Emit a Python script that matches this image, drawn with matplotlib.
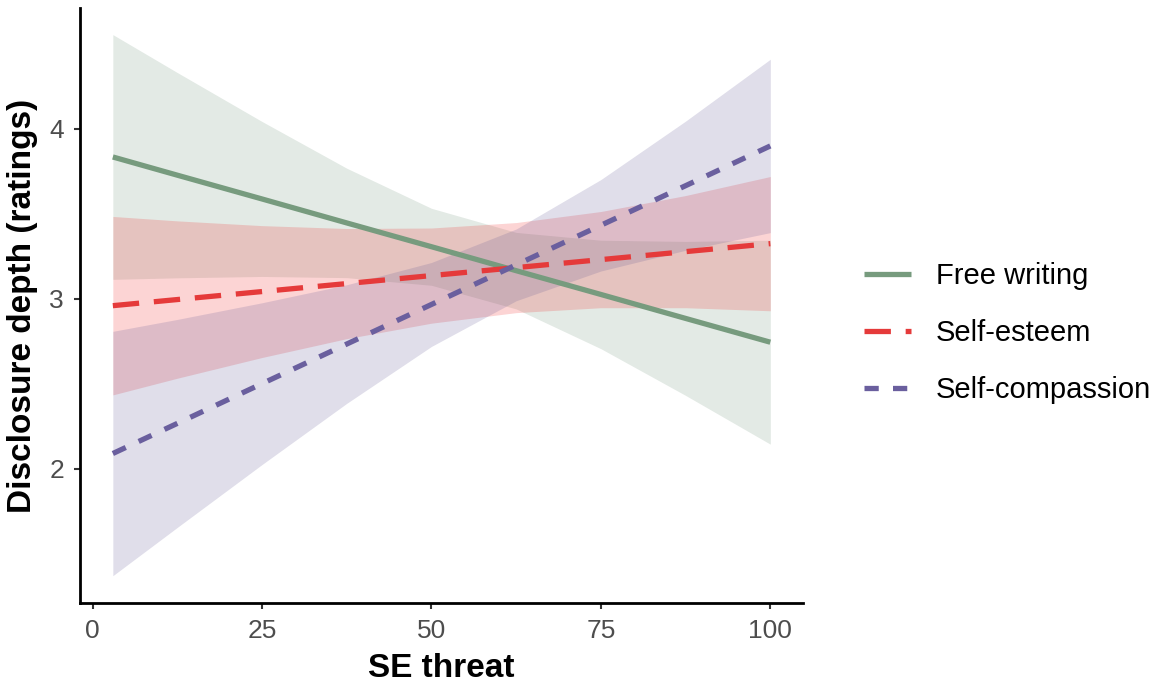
import matplotlib.pyplot as plt

# SE threat values where the fitted lines / ribbons were read
threat = [3, 12.5, 25, 37.5, 50, 62.5, 75, 87.5, 100]

# Free writing
free_fit = [3.835, 3.728, 3.588, 3.447, 3.307, 3.166, 3.026, 2.885, 2.745]
free_lo = [3.115, 3.124, 3.132, 3.125, 3.080, 2.941, 2.707, 2.432, 2.145]
free_hi = [4.555, 4.332, 4.044, 3.769, 3.533, 3.391, 3.345, 3.338, 3.345]

# Self-esteem
est_fit = [2.960, 2.996, 3.043, 3.090, 3.137, 3.184, 3.231, 3.278, 3.325]
est_lo = [2.435, 2.533, 2.655, 2.766, 2.857, 2.919, 2.948, 2.948, 2.930]
est_hi = [3.485, 3.459, 3.431, 3.414, 3.417, 3.449, 3.514, 3.608, 3.720]

# Self-compassion
comp_fit = [2.090, 2.267, 2.501, 2.734, 2.967, 3.200, 3.433, 3.666, 3.900]
comp_lo = [1.371, 1.655, 2.025, 2.385, 2.720, 2.989, 3.164, 3.286, 3.390]
comp_hi = [2.809, 2.879, 2.977, 3.083, 3.214, 3.411, 3.702, 4.046, 4.410]

groups = ["Free writing", "Self-esteem", "Self-compassion"]
x_ticks = [0, 25, 50, 75, 100]
y_ticks = [2, 3, 4]

plt.rcParams['font.family'] = ['Liberation Sans', 'DejaVu Sans']

fig = plt.figure(figsize=(11.59, 6.9), dpi=100)
ax = fig.add_axes([0.069, 0.126, 0.624, 0.862])

green = "#779b7e"
red = "#e53a3a"
purple = "#6a5f9e"

ax.fill_between(threat, free_lo, free_hi, color="#73967d", alpha=0.2, lw=0)
ax.fill_between(threat, est_lo, est_hi, color="#f02828", alpha=0.2, lw=0)
ax.fill_between(threat, comp_lo, comp_hi, color="#645a96", alpha=0.2, lw=0)

ax.plot(threat, free_fit, color=green, lw=3.8, label=groups[0],
        solid_capstyle="butt")
ax.plot(threat, est_fit, color=red, lw=3.8, label=groups[1],
        dashes=(5.0, 2.8), dash_capstyle="butt")
ax.plot(threat, comp_fit, color=purple, lw=3.8, label=groups[2],
        dashes=(2.7, 2.7), dash_capstyle="butt")

ax.set_xlim(-1.85, 104.85)
ax.set_ylim(1.21, 4.71)
ax.set_xticks(x_ticks)
ax.set_yticks(y_ticks)

for s in ["top", "right"]:
    ax.spines[s].set_visible(False)
for s in ["left", "bottom"]:
    ax.spines[s].set_linewidth(2)
    ax.spines[s].set_color("black")

ax.tick_params(axis="both", length=4.5, width=1.5, color="#333333",
               labelsize=19, labelcolor="#4d4d4d", pad=7)

ax.set_xlabel("SE threat", fontsize=24, fontweight="bold", labelpad=7)
ax.set_ylabel("Disclosure depth (ratings)", fontsize=24, fontweight="bold",
              labelpad=8)

fig.legend(loc="center left", bbox_to_anchor=(0.7455, 0.517), frameon=False,
           fontsize=21, handlelength=1.6, handletextpad=0.86,
           labelspacing=1.0, borderpad=0, borderaxespad=0)

fig.savefig("out.png", dpi=100)
